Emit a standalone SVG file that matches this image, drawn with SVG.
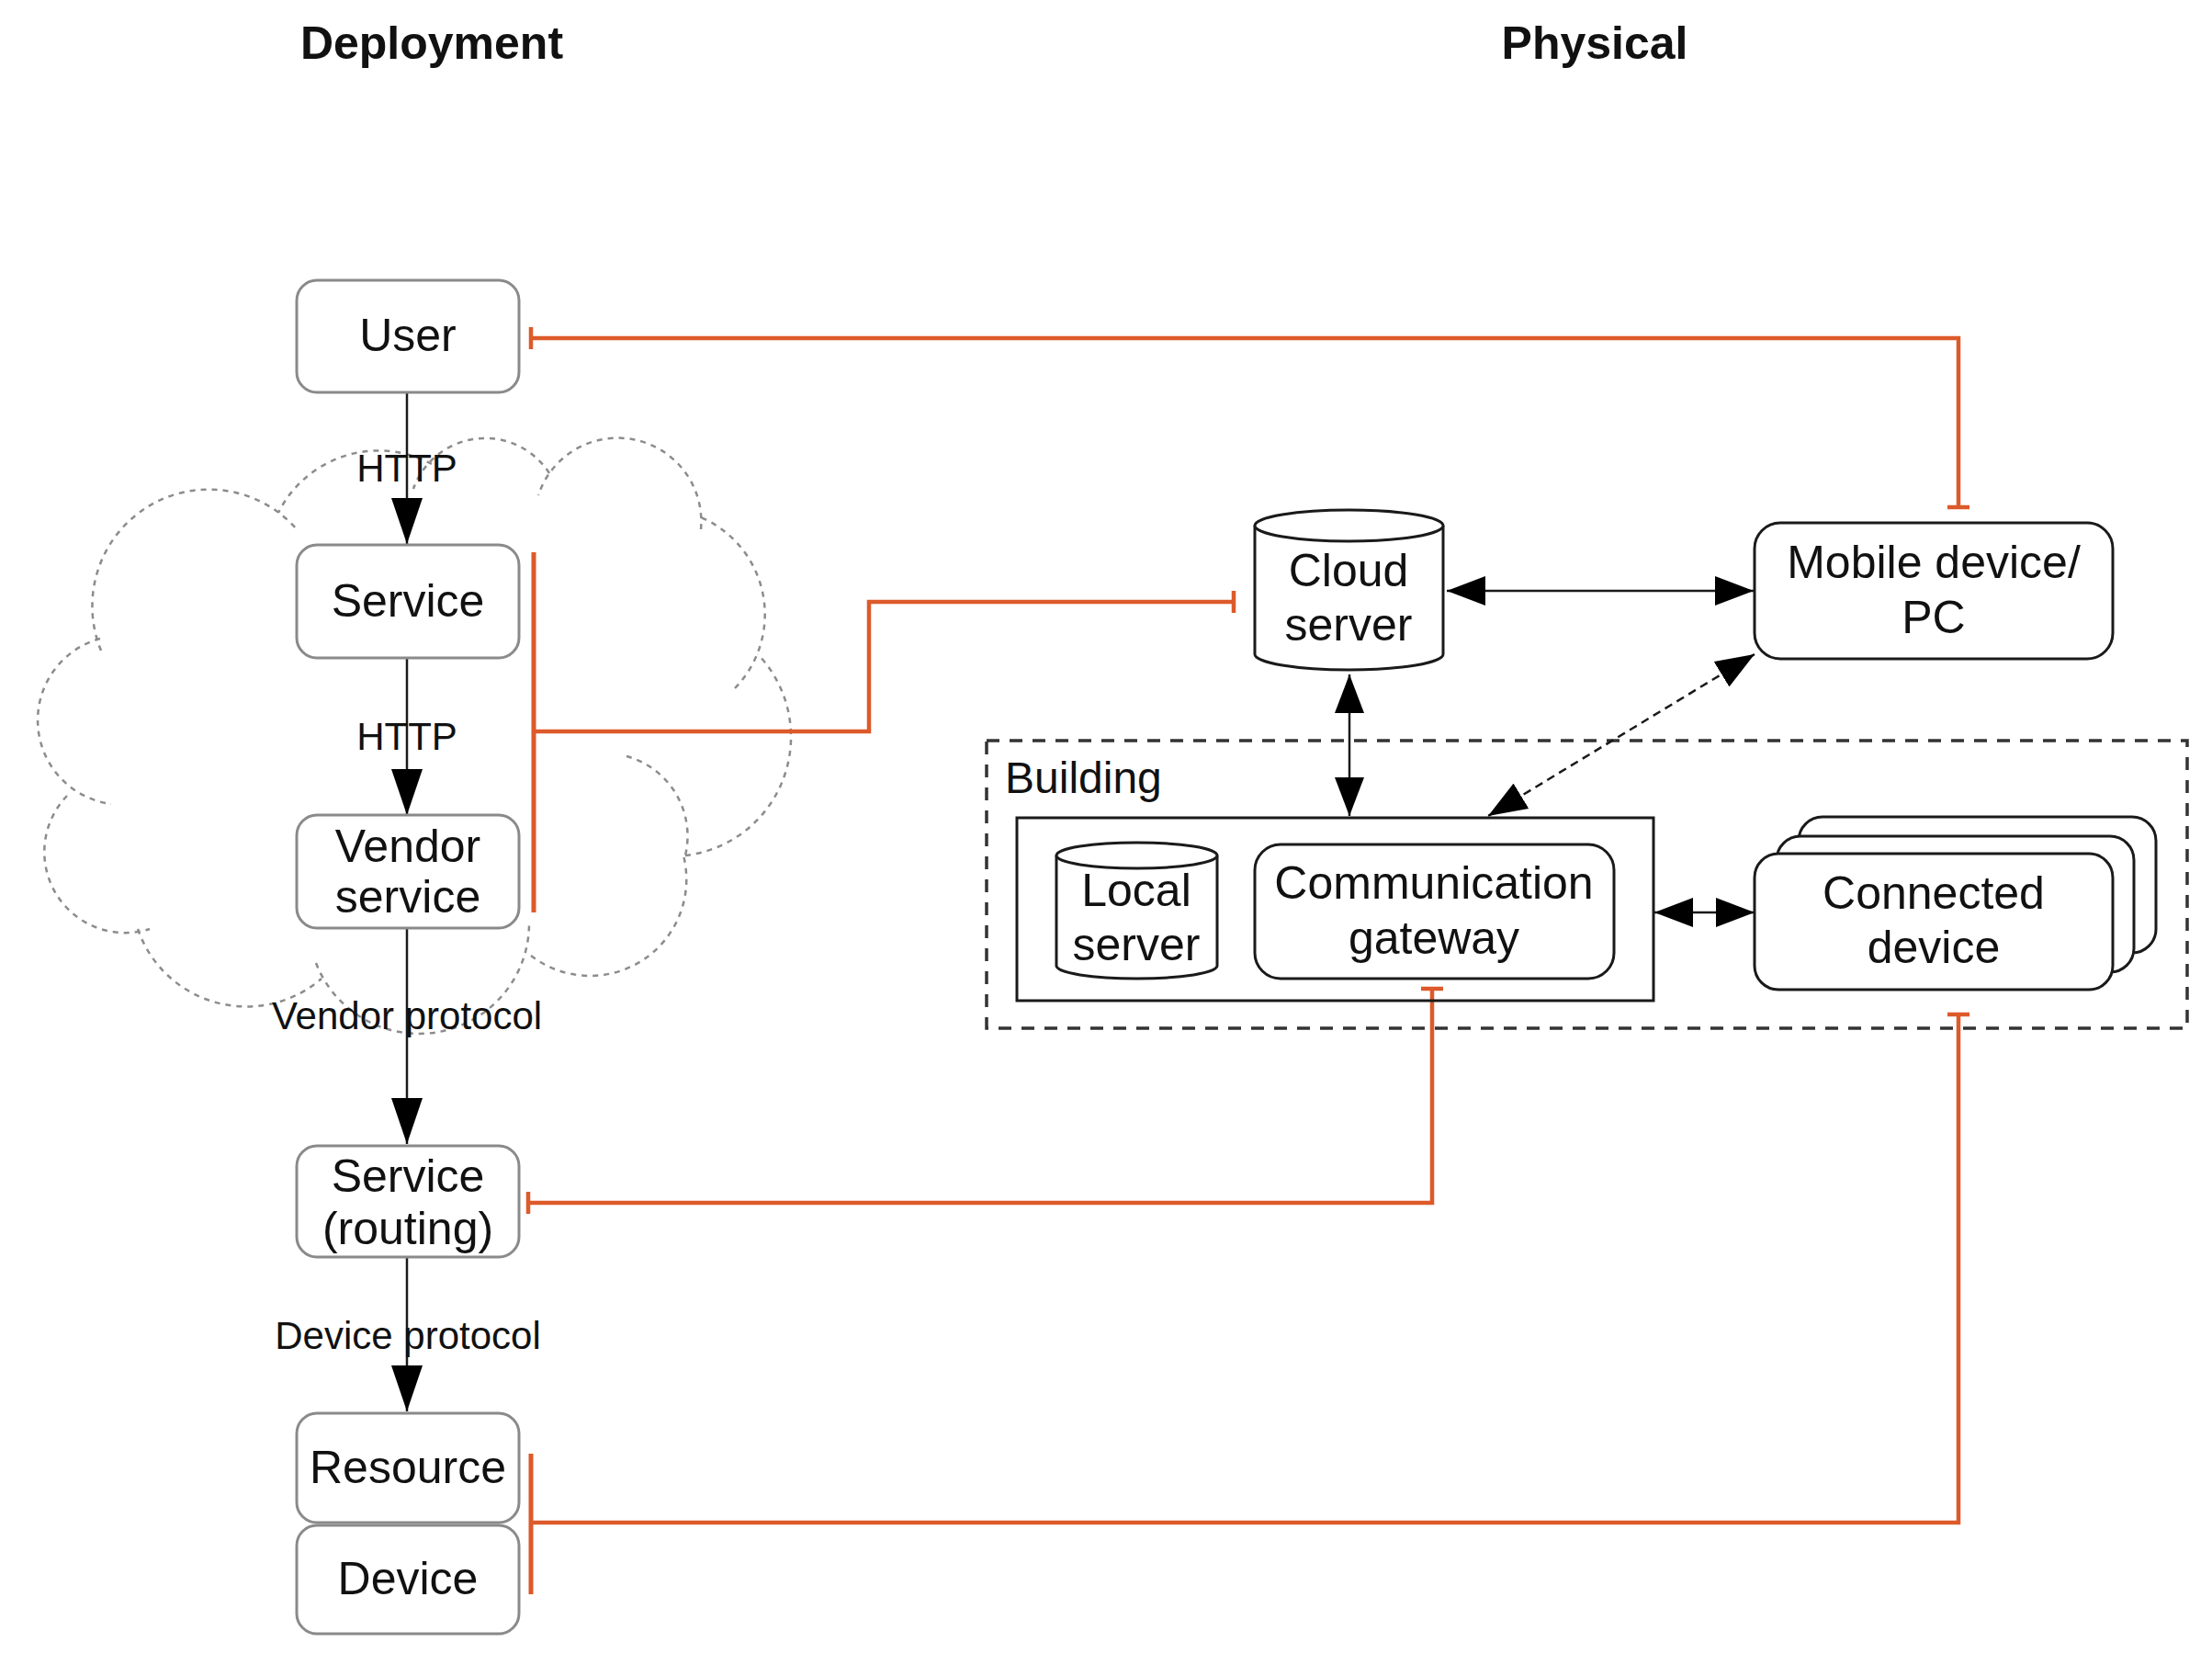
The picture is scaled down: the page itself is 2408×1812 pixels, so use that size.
<svg xmlns="http://www.w3.org/2000/svg" width="2408" height="1812" viewBox="0 0 2408 1812">
<style>
text{font-family:"Liberation Sans",Arial,Helvetica,sans-serif;fill:#111;}
.title{font-size:50px;font-weight:bold;text-anchor:middle;}
.lbl{font-size:50px;text-anchor:middle;}
.elbl{font-size:42px;text-anchor:middle;}
.dbox{fill:#fff;stroke:#8a8a8a;stroke-width:3;}
.pbox{fill:#fff;stroke:#1a1a1a;stroke-width:3;}
.cloud{fill:none;stroke:#8c8c8c;stroke-width:2.5;stroke-dasharray:6 6;}
.flow{fill:none;stroke:#1a1a1a;stroke-width:2.5;}
.map{fill:none;stroke:#dd5a2a;stroke-width:4.5;}
.bar{fill:none;stroke:#dd5a2a;stroke-width:5;}
</style>
<defs>
<marker id="arrL" markerUnits="userSpaceOnUse" markerWidth="50" markerHeight="34" refX="50" refY="17" orient="auto-start-reverse" viewBox="0 0 50 34">
<path d="M0,0 L50,17 L0,34 Z" fill="#000"/>
</marker>
<marker id="arrR" markerUnits="userSpaceOnUse" markerWidth="42" markerHeight="32" refX="42" refY="16" orient="auto-start-reverse" viewBox="0 0 42 32">
<path d="M0,0 L42,16 L0,32 Z" fill="#000"/>
</marker>
<marker id="tee" markerUnits="userSpaceOnUse" markerWidth="6" markerHeight="26" refX="3" refY="13" orient="auto" viewBox="0 0 6 26">
<line x1="3" y1="1" x2="3" y2="25" stroke="#dd5a2a" stroke-width="4.5"/>
</marker>
</defs>
<rect width="2408" height="1812" fill="#fff"/>

<g id="titles">
<text class="title" x="470" y="64">Deployment</text>
<text class="title" x="1736" y="64">Physical</text>
</g>

<g id="cloud">
<path class="cloud" d="M110,708 A127,127 0 0 1 323,576"/>
<path class="cloud" d="M470,505 A122,122 0 0 0 303,558"/>
<path class="cloud" d="M598,515 A83,83 0 0 0 450,532"/>
<path class="cloud" d="M763,576 A91,91 0 0 0 586,539"/>
<path class="cloud" d="M800,749 A115,115 0 0 0 763,563"/>
<path class="cloud" d="M746,931 A130,130 0 0 0 825,712"/>
<path class="cloud" d="M682,823 A90,90 0 0 1 746,931"/>
<path class="cloud" d="M578,1040 A105,105 0 0 0 744,931"/>
<path class="cloud" d="M344,1048 A120,120 0 0 0 576,1007"/>
<path class="cloud" d="M150,1011 A125,125 0 0 0 350,1065"/>
<path class="cloud" d="M73,866 A88,88 0 0 0 163,1011"/>
<path class="cloud" d="M109,695 A92,92 0 0 0 121,875"/>
</g>

<g id="building">
<rect x="1074" y="806" width="1307" height="313" fill="none" stroke="#333" stroke-width="3.5" stroke-dasharray="14 11"/>
<text x="1094" y="863" style="font-size:48px">Building</text>
</g>

<g id="connectors">
<path class="flow" d="M443,428 V592" marker-end="url(#arrL)"/>
<path class="flow" d="M443,717 V887" marker-end="url(#arrL)"/>
<path class="flow" d="M443,1010 V1245" marker-end="url(#arrL)"/>
<path class="flow" d="M443,1368 V1536" marker-end="url(#arrL)"/>
<path class="flow" d="M1575,643 H1909" marker-start="url(#arrR)" marker-end="url(#arrR)"/>
<path class="flow" d="M1469,734 V888" marker-start="url(#arrR)" marker-end="url(#arrR)"/>
<path class="flow" d="M1910,712 L1620,888" stroke-dasharray="9 6" marker-start="url(#arrR)" marker-end="url(#arrR)"/>
<path class="flow" d="M1801,993 H1910" marker-start="url(#arrR)" marker-end="url(#arrR)"/>
<path class="map" d="M578,368 H2132 V552" marker-start="url(#tee)" marker-end="url(#tee)"/>
<path class="bar" d="M581,601 V993"/>
<path class="map" d="M581,796 H946 V655 H1343" marker-end="url(#tee)"/>
<path class="map" d="M575,1309 H1559 V1076" marker-start="url(#tee)" marker-end="url(#tee)"/>
<path class="bar" d="M578,1582 V1735"/>
<path class="map" d="M578,1657 H2132 V1104" marker-end="url(#tee)"/>
</g>

<g id="edge-labels">
<text class="elbl" x="443" y="524">HTTP</text>
<text class="elbl" x="443" y="816">HTTP</text>
<text class="elbl" x="443" y="1120">Vendor protocol</text>
<text class="elbl" x="444" y="1468">Device protocol</text>
</g>

<g id="user">
<rect class="dbox" x="323" y="305" width="242" height="122" rx="22"/>
<text class="lbl" x="444" y="382">User</text>
</g>
<g id="service">
<rect class="dbox" x="323" y="593" width="242" height="123" rx="22"/>
<text class="lbl" x="444" y="671">Service</text>
</g>
<g id="vendor-service">
<rect class="dbox" x="323" y="887" width="242" height="123" rx="22"/>
<text class="lbl" x="444" y="938">Vendor</text>
<text class="lbl" x="444" y="993">service</text>
</g>
<g id="service-routing">
<rect class="dbox" x="323" y="1247" width="242" height="121" rx="22"/>
<text class="lbl" x="444" y="1297">Service</text>
<text class="lbl" x="444" y="1354">(routing)</text>
</g>
<g id="resource">
<rect class="dbox" x="323" y="1538" width="242" height="119" rx="22"/>
<text class="lbl" x="444" y="1614">Resource</text>
</g>
<g id="device">
<rect class="dbox" x="323" y="1660" width="242" height="118" rx="22"/>
<text class="lbl" x="444" y="1735">Device</text>
</g>

<g id="cloud-server">
<path class="pbox" d="M1366,572 A102.5,17 0 0 1 1571,572 V712 A102.5,17 0 0 1 1366,712 Z"/>
<path class="pbox" d="M1366,572 A102.5,17 0 0 0 1571,572" fill="none"/>
<text class="lbl" x="1468" y="638">Cloud</text>
<text class="lbl" x="1468" y="697">server</text>
</g>
<g id="mobile-device">
<rect class="pbox" x="1910" y="569" width="390" height="148" rx="28"/>
<text class="lbl" x="2105" y="629">Mobile device/</text>
<text class="lbl" x="2105" y="689">PC</text>
</g>
<g id="gateway-group">
<rect x="1107" y="890" width="693" height="199" fill="none" stroke="#1a1a1a" stroke-width="3"/>
</g>
<g id="local-server">
<path class="pbox" d="M1150,931 A87.5,14 0 0 1 1325,931 V1051 A87.5,14 0 0 1 1150,1051 Z"/>
<path class="pbox" d="M1150,931 A87.5,14 0 0 0 1325,931" fill="none"/>
<text class="lbl" x="1237" y="986">Local</text>
<text class="lbl" x="1237" y="1045">server</text>
</g>
<g id="communication-gateway">
<rect class="pbox" x="1366" y="919" width="391" height="146" rx="28"/>
<text class="lbl" x="1561" y="978">Communication</text>
<text class="lbl" x="1561" y="1038">gateway</text>
</g>
<g id="connected-device">
<rect class="pbox" x="1958" y="889" width="389" height="148" rx="26"/>
<rect class="pbox" x="1934" y="910" width="389" height="148" rx="26"/>
<rect class="pbox" x="1910" y="929" width="390" height="148" rx="26"/>
<text class="lbl" x="2105" y="989">Connected</text>
<text class="lbl" x="2105" y="1048">device</text>
</g>
</svg>
